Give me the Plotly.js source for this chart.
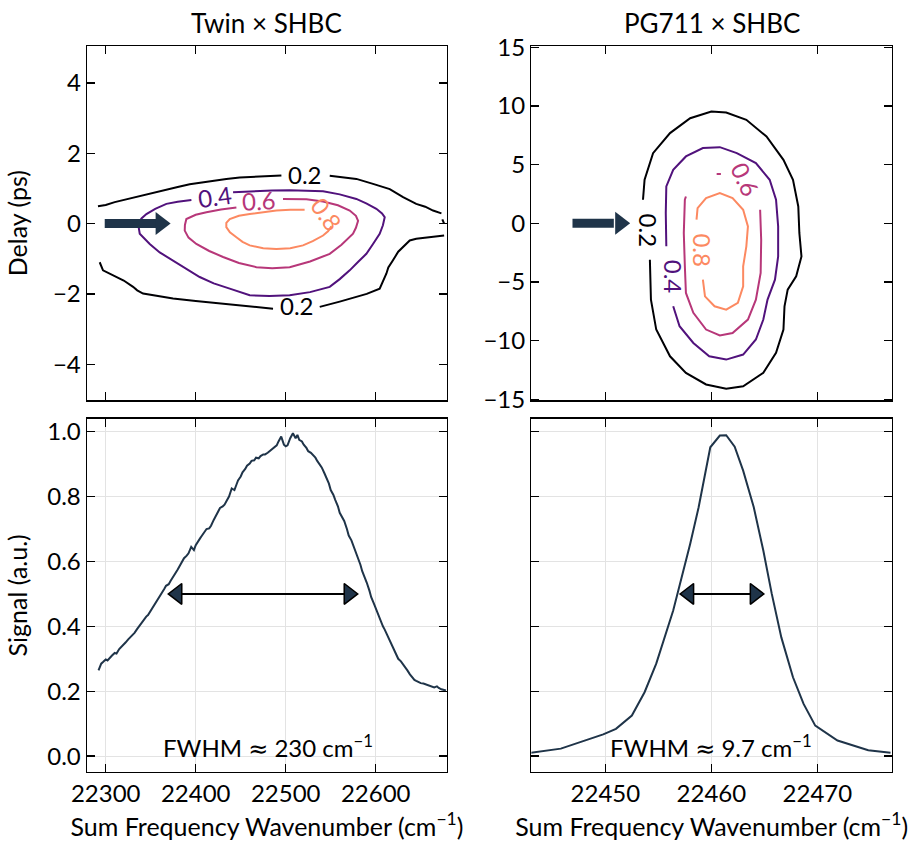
<!DOCTYPE html>
<html><head><meta charset="utf-8">
<script src="https://cdn.plot.ly/plotly-3.0.1.min.js"></script>
<style>html,body{margin:0;padding:0;background:#fff}</style>
</head><body><div id="chart" style="width:912px;height:841px"></div>
<script>
// ---------- Titles / labels ----------
const titleLeft = 'Twin × SHBC';
const titleRight = 'PG711 × SHBC';
const yLabelTop = 'Delay (ps)';
const yLabelBottom = 'Signal (a.u.)';
const xLabel = 'Sum Frequency Wavenumber (cm<sup>−1</sup>)';
const fwhmTwinText = 'FWHM <span style="font-family:DejaVu Sans">≈</span> 230 cm<sup>−1</sup>';
const fwhmPgText = 'FWHM <span style="font-family:DejaVu Sans">≈</span> 9.7 cm<sup>−1</sup>';

// ---------- Contour levels ----------
const levels = ['0.2', '0.4', '0.6', '0.8'];
const levelColors = ['#000004', '#51127c', '#b73779', '#fc8961'];

// ---------- Twin × SHBC contour lines (traced) ----------
const twin_c02_x = [22291.4,22300,22310,22324,22337.8,22352,22365,22380,22393.3,22407,22420,22434,22448.9,22462,22475,22495.2,null,
  22548.9,22565,22578.5,22597,22615.6,22630.4,22645,22655,22663.7,22673,null,
  22674,22676,null,
  22676,22665,22652.6,22645,22637.8,22630,22625,22619,22614,22611.9,22608,22604.4,22590,22578.5,22560,22537.8,null,
  22485.9,22460,22430.4,22400,22374.8,22355,22341.5,22335,22330.4,22320,22311.9,22303,22297,22293.3];
const twin_c02_y = [0.49,0.53,0.61,0.70,0.79,0.86,0.96,1.04,1.12,1.17,1.23,1.27,1.31,1.33,1.35,1.37,null,
  1.36,1.32,1.27,1.13,0.98,0.75,0.56,0.48,0.37,0.29,null,
  0.12,0.0,null,
  -0.34,-0.37,-0.39,-0.43,-0.48,-0.66,-0.80,-1.05,-1.25,-1.42,-1.62,-1.85,-2.00,-2.09,-2.22,-2.37,null,
  -2.42,-2.36,-2.27,-2.20,-2.13,-2.05,-1.99,-1.90,-1.80,-1.62,-1.52,-1.42,-1.33,-1.10];

const twin_c04_x = [22441.5,22455,22467.4,22485,22504.4,22522,22541.5,22560,22578.5,22590,22600.7,22607,22610,22608,22604.4,22597,22589.6,22580,22571.1,22560,22548.9,22527,22504.4,22482,22460,22437.8,22420,22404.4,22390,22374.8,22360,22348.9,22337.8,22335.9,22340,22345.2,22355,22367.4,22380,22395.2];
const twin_c04_y = [0.89,0.91,0.93,0.94,0.95,0.94,0.92,0.83,0.70,0.57,0.42,0.29,0.18,-0.05,-0.29,-0.58,-0.86,-1.10,-1.33,-1.58,-1.80,-1.95,-2.04,-2.06,-2.04,-1.85,-1.70,-1.52,-1.30,-1.05,-0.82,-0.58,-0.29,0.01,0.15,0.27,0.42,0.56,0.62,0.67];

const twin_c06_x = [22497,22510,22523,22541.5,22558,22571.1,22578,22580.4,22578,22574.8,22562,22548.9,22527,22504.4,22485,22467.4,22448,22430.4,22415,22400.7,22392,22387.8,22388,22389.6,22400,22411.9,22428,22445.2];
const twin_c06_y = [0.70,0.70,0.69,0.63,0.52,0.37,0.22,0.08,-0.12,-0.29,-0.60,-0.86,-1.08,-1.24,-1.27,-1.24,-1.12,-0.95,-0.78,-0.58,-0.40,-0.20,-0.04,0.13,0.25,0.32,0.40,0.46];

const twin_c08_x = [22550.7,22547,22541.5,22530,22519.2,22505,22489.6,22475,22460,22452,22445.2,22438,22434,22434,22437.8,22448,22460,22475,22489.6,22505,22521];
const twin_c08_y = [-0.08,-0.22,-0.34,-0.50,-0.62,-0.70,-0.72,-0.70,-0.62,-0.52,-0.39,-0.25,-0.10,0.02,0.13,0.22,0.27,0.33,0.37,0.39,0.39];

// ---------- PG711 × SHBC contour lines (traced) ----------
const pg_c02_x = [22453.55,22453.7,22454.5,22456.1,22458.0,22460.0,22461.4,22463.3,22465.2,22466.8,22467.7,22468.2,22468.3,22468.5,22468.0,22467.2,22466.9,22466.8,22466.1,22464.9,22463.0,22461.4,22459.5,22457.6,22456.1,22454.8,22454.3,22454.2,22454.2];
const pg_c02_y = [2.0,3.70,5.97,7.68,8.95,9.52,9.43,8.81,7.39,5.40,3.70,1.43,-0.83,-2.83,-4.53,-5.66,-7.08,-9.06,-11.05,-12.75,-13.89,-14.11,-13.74,-12.75,-11.34,-9.06,-6.51,-4.24,-3.11];

const pg_c04_x = [22455.75,22455.7,22455.75,22456.4,22457.6,22459.2,22460.8,22462.4,22464.2,22465.5,22466.1,22466.3,22466.3,22466.0,22465.3,22464.9,22464.2,22463.0,22461.4,22459.8,22458.3,22457.0,22456.4];
const pg_c04_y = [-1.97,0.87,3.13,4.55,5.69,6.40,6.48,5.97,5.12,3.70,2.0,-0.27,-2.83,-4.81,-6.51,-8.21,-9.91,-11.19,-11.62,-11.34,-10.20,-8.78,-7.08];

const pg_c06_x = [22460.5,22460.9,null,22464.6,22464.7,22464.65,22464.2,22463.45,22462.0,22460.8,22459.5,22458.3,22457.6,22457.5,22457.4,22457.5,22457.6];
const pg_c06_y = [4.19,4.19,null,1.15,-1.40,-4.24,-6.51,-8.21,-9.35,-9.57,-9.06,-7.64,-5.94,-3.68,-0.83,2.0,2.28];

const pg_c08_x = [22458.6,22458.7,22459.5,22460.8,22462.0,22463.0,22463.45,22463.3,22463.0,22463.0,22462.5,22461.4,22460.3,22459.4,22459.2];
const pg_c08_y = [0.30,1.29,2.14,2.57,2.14,1.15,-0.27,-1.97,-3.68,-5.38,-6.79,-7.36,-7.08,-6.23,-4.81];

// ---------- Spectra (traced) ----------
const twin_x = [22292,22295,22297,22300,22302,22305,22307,22310,22312,22315,22317,22320,22322,22325,22327,22330,22332,22335,22337,22340,22342,22345,22347,22350,22352,22355,22357,22360,22362,22365,22367,22370,22372,22375,22377,22380,22382,22385,22387,22390,22392,22395,22398,22400,22402,22405,22407,22410,22412,22415,22417,22420,22422,22425,22427,22430,22432,22435,22437,22440,22443,22445,22447,22450,22452,22455,22457,22460,22462,22465,22467,22470,22472,22475,22477,22480,22482,22485,22487,22490,22492,22495,22498,22500,22502,22505,22508,22510,22511,22513,22515,22518,22520,22523,22525,22528,22530,22533,22535,22538,22540,22543,22545,22548,22550,22553,22555,22558,22560,22563,22565,22568,22570,22573,22575,22578,22580,22583,22585,22588,22590,22593,22595,22598,22600,22603,22605,22608,22610,22613,22615,22618,22620,22623,22625,22628,22630,22633,22635,22638,22640,22643,22645,22648,22650,22653,22655,22658,22660,22663,22665,22668,22670,22673,22675,22678];
const twin_y = [0.264,0.285,0.29,0.298,0.295,0.305,0.31,0.318,0.316,0.33,0.335,0.342,0.35,0.36,0.365,0.372,0.38,0.392,0.40,0.41,0.42,0.43,0.435,0.448,0.455,0.468,0.48,0.49,0.50,0.515,0.525,0.53,0.54,0.552,0.56,0.575,0.585,0.598,0.61,0.618,0.625,0.645,0.635,0.65,0.66,0.672,0.68,0.692,0.70,0.702,0.71,0.728,0.74,0.756,0.765,0.77,0.775,0.79,0.80,0.825,0.82,0.835,0.85,0.862,0.875,0.885,0.895,0.902,0.91,0.912,0.92,0.918,0.925,0.93,0.93,0.935,0.94,0.945,0.95,0.958,0.97,0.985,0.96,0.955,0.958,0.98,0.995,0.985,0.98,0.99,0.975,0.97,0.96,0.95,0.94,0.935,0.93,0.92,0.91,0.90,0.89,0.872,0.86,0.84,0.82,0.805,0.79,0.77,0.75,0.735,0.725,0.70,0.68,0.665,0.65,0.63,0.615,0.59,0.57,0.55,0.535,0.51,0.49,0.47,0.455,0.435,0.42,0.40,0.39,0.372,0.36,0.342,0.33,0.312,0.30,0.292,0.285,0.272,0.265,0.252,0.245,0.235,0.232,0.228,0.225,0.224,0.222,0.22,0.218,0.214,0.212,0.215,0.21,0.206,0.205,0.202];

const pg_x = [22442.9,22445.8,22449.8,22451.0,22452.5,22453.7,22454.8,22455.6,22456.4,22457.2,22458.0,22458.8,22459.9,22460.8,22461.4,22462.2,22463.0,22464.0,22464.9,22465.7,22466.6,22467.7,22468.7,22469.8,22471.9,22474.8,22476.9];
const pg_y = [0.010,0.023,0.067,0.084,0.125,0.197,0.285,0.366,0.449,0.551,0.654,0.767,0.952,0.988,0.989,0.954,0.880,0.767,0.634,0.500,0.366,0.243,0.161,0.094,0.048,0.018,0.010];

// ---------- Arrow anchors ----------
const fwhmTwinHeads = [22379.5, 22570];
const fwhmPgHeads = [22457.9, 22464.1];
const fwhmLevel = 0.5;
const pumpTwin = [22298.9, 22357, 22361];
const pumpPg = [22446.9, 22450.8, 22451.4];

// ---------- Tick values ----------
const xTicksTwin = [22300, 22400, 22500, 22600];
const xTicksPg = [22450, 22460, 22470];
const yTicksTwinDelay = [-4, -2, 0, 2, 4];
const yTicksPgDelay = [-15, -10, -5, 0, 5, 10, 15];
const yTicksSignal = [0, 0.2, 0.4, 0.6, 0.8, 1.0];

const FONT = 'Lato, "DejaVu Sans", sans-serif';
const FS = 24;
const NAVY = '#1f3449';

function lineTrace(x, y, color, xa, ya, w) {
  return {x: x, y: y, type: 'scatter', mode: 'lines', xaxis: xa, yaxis: ya,
          line: {color: color, width: w || 2}, connectgaps: false, hoverinfo: 'skip', showlegend: false};
}

const traces = [
  lineTrace(twin_c02_x, twin_c02_y, levelColors[0], 'x', 'y'),
  lineTrace(twin_c04_x, twin_c04_y, levelColors[1], 'x', 'y'),
  lineTrace(twin_c06_x, twin_c06_y, levelColors[2], 'x', 'y'),
  lineTrace(twin_c08_x, twin_c08_y, levelColors[3], 'x', 'y'),
  lineTrace(pg_c02_x, pg_c02_y, levelColors[0], 'x2', 'y2'),
  lineTrace(pg_c04_x, pg_c04_y, levelColors[1], 'x2', 'y2'),
  lineTrace(pg_c06_x, pg_c06_y, levelColors[2], 'x2', 'y2'),
  lineTrace(pg_c08_x, pg_c08_y, levelColors[3], 'x2', 'y2'),
  lineTrace(twin_x, twin_y, NAVY, 'x3', 'y3', 2),
  lineTrace(pg_x, pg_y, NAVY, 'x4', 'y4', 2)
];

function pumpArrow(pts, xa, ya) {
  traces.push({x: [pts[0], pts[1]], y: [0, 0], type: 'scatter', mode: 'lines', xaxis: xa, yaxis: ya,
               line: {color: NAVY, width: 9}, hoverinfo: 'skip', showlegend: false});
  traces.push({x: [pts[2]], y: [0], type: 'scatter', mode: 'markers', xaxis: xa, yaxis: ya,
               marker: {symbol: 'triangle-right', size: 20, color: NAVY, line: {width: 0}}, hoverinfo: 'skip', showlegend: false});
}
pumpArrow(pumpTwin, 'x', 'y');
pumpArrow(pumpPg, 'x2', 'y2');

function fwhmArrow(heads, xa, ya) {
  traces.push({x: heads, y: [fwhmLevel, fwhmLevel], type: 'scatter', mode: 'lines', xaxis: xa, yaxis: ya,
               line: {color: '#000', width: 2}, hoverinfo: 'skip', showlegend: false});
  traces.push({x: heads, y: [fwhmLevel, fwhmLevel], type: 'scatter', mode: 'markers', xaxis: xa, yaxis: ya,
               marker: {symbol: ['triangle-left', 'triangle-right'], size: 18, color: NAVY, line: {color: '#000', width: 1.5}},
               hoverinfo: 'skip', showlegend: false});
}
fwhmArrow(fwhmTwinHeads, 'x3', 'y3');
fwhmArrow(fwhmPgHeads, 'x4', 'y4');

const tickFont = {family: FONT, size: FS, color: '#000'};
function ax(o) {
  return Object.assign({
    showline: true, linecolor: '#000', linewidth: 1.4, mirror: 'allticks',
    ticks: 'inside', ticklen: 8, tickwidth: 1.3, tickcolor: '#000',
    zeroline: false, showgrid: false, fixedrange: true,
    tickfont: tickFont
  }, o);
}
const gridOpts = {showgrid: true, gridcolor: '#e3e3e3', gridwidth: 1};
const tfont = {family: FONT, size: 25, color: '#000'};
const headFont = {family: FONT, size: 26, color: '#000'};
const noteFont = {family: FONT, size: FS, color: '#000'};

const layout = {
  width: 912, height: 841,
  margin: {l: 87.3, r: 19.7, t: 45.5, b: 69.3},
  paper_bgcolor: '#fff', plot_bgcolor: '#fff',
  font: {family: FONT, size: FS, color: '#000'},
  showlegend: false,
  xaxis: ax({domain: [0, 0.4472], range: [22279.2, 22679.2], tickvals: xTicksTwin, showticklabels: false, anchor: 'y'}),
  yaxis: ax({domain: [0.5118, 1], range: [-5.03, 5.05], tickvals: yTicksTwinDelay, anchor: 'x', title: {text: yLabelTop, font: tfont}}),
  xaxis2: ax({domain: [0.552, 1], range: [22443.02, 22477.04], tickvals: xTicksPg, showticklabels: false, anchor: 'y2'}),
  yaxis2: ax({domain: [0.5118, 1], range: [-15.1, 15.1], tickvals: yTicksPgDelay, anchor: 'x2'}),
  xaxis3: ax(Object.assign({domain: [0, 0.4472], range: [22279.2, 22679.2], tickvals: xTicksTwin, tickformat: 'd', anchor: 'y3', title: {text: xLabel, font: tfont}}, gridOpts)),
  yaxis3: ax(Object.assign({domain: [0, 0.4866], range: [-0.049, 1.04], tickvals: yTicksSignal, tickformat: '.1f', anchor: 'x3', title: {text: yLabelBottom, font: tfont}}, gridOpts)),
  xaxis4: ax(Object.assign({domain: [0.552, 1], range: [22443.02, 22477.04], tickvals: xTicksPg, tickformat: 'd', anchor: 'y4', title: {text: xLabel, font: tfont}}, gridOpts)),
  yaxis4: ax(Object.assign({domain: [0, 0.4866], range: [-0.049, 1.04], tickvals: yTicksSignal, showticklabels: false, anchor: 'x4'}, gridOpts)),
  annotations: []
};

const A = layout.annotations;
A.push({text: titleLeft, xref: 'x domain', yref: 'y domain', x: 0.5, y: 1.065, xanchor: 'center', yanchor: 'middle', showarrow: false, font: headFont});
A.push({text: titleRight, xref: 'x2 domain', yref: 'y2 domain', x: 0.5, y: 1.065, xanchor: 'center', yanchor: 'middle', showarrow: false, font: headFont});

function clabel(text, color, xr, yr, x, y, ang) {
  A.push({text: text, xref: xr, yref: yr, x: x, y: y, showarrow: false, textangle: ang,
          font: {family: FONT, size: FS, color: color}, xanchor: 'center', yanchor: 'middle'});
}
clabel(levels[0], levelColors[0], 'x', 'y', 22521, 1.39, 0);
clabel(levels[0], levelColors[0], 'x', 'y', 22512, -2.34, 0);
clabel(levels[1], levelColors[1], 'x', 'y', 22421.5, 0.78, -8);
clabel(levels[2], levelColors[2], 'x', 'y', 22470, 0.67, -3);
clabel(levels[3], levelColors[3], 'x', 'y', 22546, 0.27, 55);
clabel(levels[0], levelColors[0], 'x2', 'y2', 22454.1, -0.61, 90);
clabel(levels[1], levelColors[1], 'x2', 'y2', 22456.4, -4.58, 90);
clabel(levels[2], levelColors[2], 'x2', 'y2', 22463.2, 3.70, 65);
clabel(levels[3], levelColors[3], 'x2', 'y2', 22459.2, -2.31, 90);

A.push({text: fwhmTwinText, xref: 'x3', yref: 'y3', x: 22480, y: 0.03, showarrow: false, font: noteFont, xanchor: 'center', yanchor: 'middle'});
A.push({text: fwhmPgText, xref: 'x4', yref: 'y4', x: 22460, y: 0.03, showarrow: false, font: noteFont, xanchor: 'center', yanchor: 'middle'});

Plotly.newPlot('chart', traces, layout, {displayModeBar: false, staticPlot: true});
</script></body></html>
